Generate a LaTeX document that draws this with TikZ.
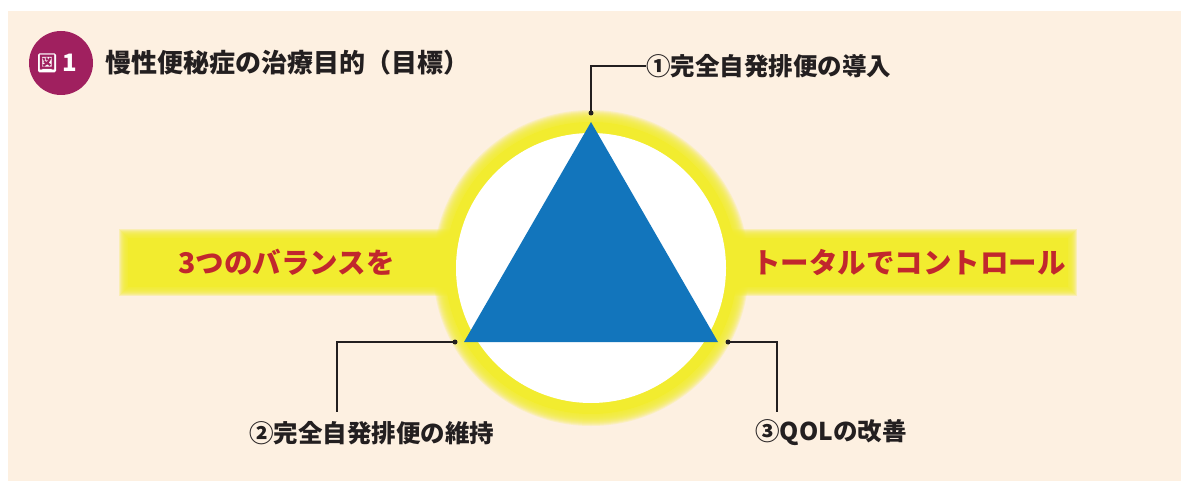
\documentclass[tikz,border=0pt]{standalone}
\usepackage{fontspec}
\newfontfamily\jp{Noto Sans CJK JP}
\usetikzlibrary{calc}
\definecolor{bgc}{HTML}{FDF0E1}
\definecolor{glowy}{HTML}{F2EC2F}
\definecolor{tri}{HTML}{1275BC}
\definecolor{pur}{HTML}{A0205F}
\definecolor{redt}{HTML}{C1272D}
\definecolor{ink}{HTML}{231F20}
\tikzset{
  lbl/.style={font=\jp\bfseries\fontsize{24.5}{28}\selectfont, text=ink, inner sep=0pt},
  band/.style={font=\jp\bfseries\fontsize{28.5}{32}\selectfont, text=redt, inner sep=0pt},
  dot/.style={circle, fill=ink, inner sep=0pt, minimum size=5pt},
  leader/.style={draw=ink, line width=1.5pt},
}
\begin{document}
\begin{tikzpicture}[x=1pt,y=-1pt]
\useasboundingbox (0,0) rectangle (1181,481);
\fill[bgc] (8,11) rectangle (1181,481);
% bands
\fill[glowy] (128,238) rectangle (460,287);
\fill[glowy] (722,238) rectangle (1068,287);
\foreach \d in {-4,...,4}{
  \fill[glowy, opacity=0.25] (123-\d,233-\d) rectangle (460,292+\d);
  \fill[glowy, opacity=0.25] (722,233-\d) rectangle (1073+\d,292+\d);
}
% circle glow
\fill[glowy] (591,268) circle[radius=146];
\foreach \r in {147,...,158}{
  \fill[glowy, opacity=0.18] (591,268) circle[radius=\r];
}
\fill[white] (591,268) circle[radius=135];
\fill[tri] (591,122) -- (464,342) -- (718,342) -- cycle;
% dots and labels
\node[dot] (d1) at (591,113) {};
\node[dot] (d2) at (455,342) {};
\node[dot] (d3) at (728,342) {};
\node[lbl, anchor=west] (l1) at (646,66) {①完全自発排便の導入};
\node[lbl] (l2) at (371.5,433) {②完全自発排便の維持};
\node[lbl] (l3) at (831,433) {③QOLの改善};
\draw[leader] (d1.center) |- (l1.west);
\draw[leader] (d2.center) -| ($(l2.center)+(-34.5,-21)$);
\draw[leader] (d3.center) -| ($(l3.center)+(-54,-21)$);
% band texts
\node[band] (b1) at (286.5,262) {3つのバランスを};
\node[band] (b2) at (909,262) {トータルでコントロール};
% title
\node[circle, fill=pur, minimum size=64pt, inner sep=0pt] (badge) at (61,63) {};
\node[fill=white, rounded corners=1.5pt, minimum width=18pt, minimum height=19pt, inner sep=0pt,
      font=\jp\bfseries\fontsize{16.5}{17}\selectfont, text=pur] (zu) at (47,63) {図};
\node[font=\jp\bfseries\fontsize{24}{26}\selectfont, text=white, inner sep=0pt] (one) at (70,63) {1};
\node[lbl, anchor=west, font=\jp\bfseries\fontsize{26}{28}\selectfont] (title) at (105,63) {慢性便秘症の治療目的（目標）};
\end{tikzpicture}
\end{document}
